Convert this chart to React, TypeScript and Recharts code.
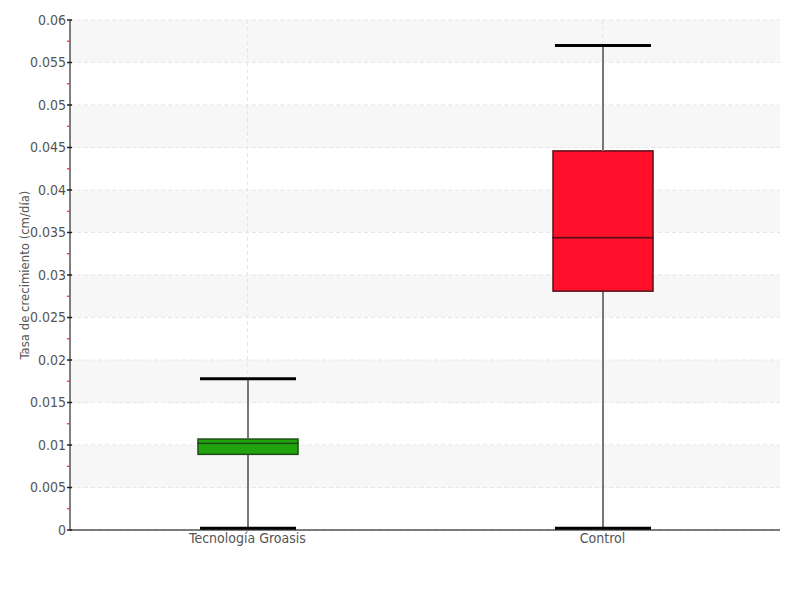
import React from 'react';
import {
  ComposedChart,
  Bar,
  XAxis,
  YAxis,
  CartesianGrid,
} from 'recharts';

const categories = ['Tecnología Groasis', 'Control'];
const mins = [0.0002, 0.0002];
const q1s = [0.0089, 0.0281];
const medians = [0.0102, 0.0344];
const q3s = [0.0107, 0.0446];
const maxs = [0.0178, 0.057];
const fills = ['#22a40f', '#ff0f2a'];
const strokes = ['#1b4d12', '#5a1018'];

const majorTicks = [0, 0.005, 0.01, 0.015, 0.02, 0.025, 0.03, 0.035, 0.04, 0.045, 0.05, 0.055, 0.06];
const minorTicks = [0.0025, 0.0075, 0.0125, 0.0175, 0.0225, 0.0275, 0.0325, 0.0375, 0.0425, 0.0475, 0.0525, 0.0575];

const FONT = "'DejaVu Sans Condensed', 'Liberation Sans Narrow', sans-serif";

const data = categories.map((name, i) => ({
  name,
  base: mins[i],
  lowW: q1s[i] - mins[i],
  boxLow: medians[i] - q1s[i],
  boxHigh: q3s[i] - medians[i],
  highW: maxs[i] - q3s[i],
  idx: i,
}));

const allTicks = [...majorTicks, ...minorTicks].sort((a, b) => a - b);

function YTick(props: any) {
  const { x, y, payload } = props;
  const v = payload.value;
  const isMajor = majorTicks.some((t) => Math.abs(t - v) < 1e-9);
  if (!isMajor) {
    // small red minor tick between labelled values
    return <line x1={x - 3} x2={x} y1={y} y2={y} stroke="#ff2020" strokeWidth={1.2} />;
  }
  return (
    <g>
      <line x1={x - 3} x2={x + 2} y1={y} y2={y} stroke="#222" strokeWidth={1.5} />
      <text x={x - 4} y={y} dy="0.35em" textAnchor="end" fill="#555" fontSize={14} fontFamily={FONT}>
        {String(v)}
      </text>
    </g>
  );
}

function LowWhisker(props: any) {
  const { x, y, width, height } = props;
  const cx = x + width / 2;
  return (
    <g>
      <line x1={cx} x2={cx} y1={y} y2={y + height} stroke="#777" strokeWidth={2} />
      <line x1={x + 2} x2={x + width - 2} y1={y + height} y2={y + height} stroke="#000" strokeWidth={3} />
    </g>
  );
}

function HighWhisker(props: any) {
  const { x, y, width, height } = props;
  const cx = x + width / 2;
  return (
    <g>
      <line x1={cx} x2={cx} y1={y} y2={y + height} stroke="#777" strokeWidth={2} />
      <line x1={x + 2} x2={x + width - 2} y1={y} y2={y} stroke="#000" strokeWidth={3} />
    </g>
  );
}

function BoxPart(props: any) {
  const { x, y, width, height, payload } = props;
  const i = payload.idx;
  return (
    <rect x={x} y={y} width={width} height={height} fill={fills[i]} stroke={strokes[i]} strokeWidth={1.5} />
  );
}

export default function App() {
  return (
    <div style={{ position: 'absolute', left: 0, top: 0, background: '#fff' }}>
      <ComposedChart
        width={800}
        height={600}
        data={data}
        margin={{ top: 20, right: 20, left: 0, bottom: 40 }}
      >
        <CartesianGrid
          stroke="#e6e6e6"
          strokeDasharray="4 3"
          horizontalValues={majorTicks}
          verticalValues={categories}
          horizontalFill={['#f7f7f7', '#ffffff']}
        />
        <XAxis
          dataKey="name"
          axisLine={{ stroke: '#000', strokeWidth: 1 }}
          tickLine={false}
          tickSize={0}
          tickMargin={3}
          tick={{ fill: '#555', fontSize: 14, fontFamily: FONT }}
        />
        <YAxis
          type="number"
          domain={[0, 0.06]}
          ticks={allTicks}
          interval={0}
          width={70}
          tickSize={0}
          tickMargin={0}
          tickLine={false}
          axisLine={{ stroke: '#000', strokeWidth: 1 }}
          tick={<YTick />}
          label={{
            value: 'Tasa de crecimiento (cm/día)',
            angle: -90,
            position: 'insideLeft',
            offset: 24,
            style: { textAnchor: 'middle', fill: '#555', fontSize: 13, fontFamily: FONT },
          }}
        />
        <Bar dataKey="base" stackId="a" fill="transparent" barSize={100} isAnimationActive={false} />
        <Bar dataKey="lowW" stackId="a" shape={<LowWhisker />} barSize={100} isAnimationActive={false} />
        <Bar dataKey="boxLow" stackId="a" shape={<BoxPart />} barSize={100} isAnimationActive={false} />
        <Bar dataKey="boxHigh" stackId="a" shape={<BoxPart />} barSize={100} isAnimationActive={false} />
        <Bar dataKey="highW" stackId="a" shape={<HighWhisker />} barSize={100} isAnimationActive={false} />
      </ComposedChart>
    </div>
  );
}
